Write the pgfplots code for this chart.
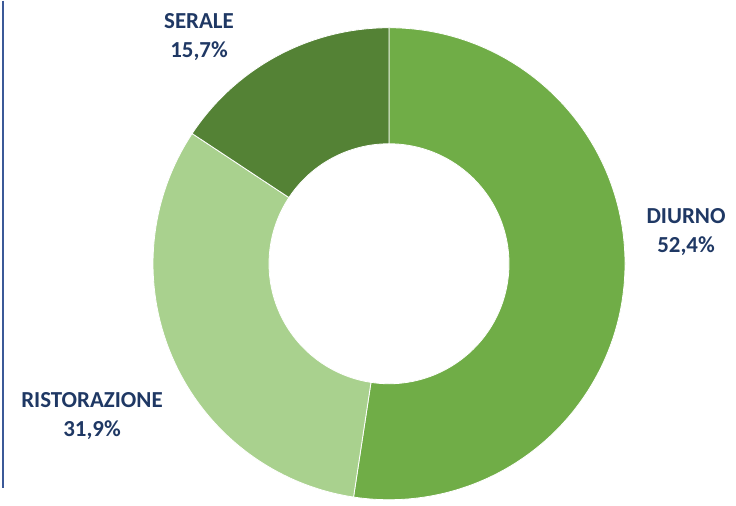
\documentclass[border=0pt]{standalone}
\usepackage{pgfplots}
\pgfplotsset{compat=1.18}
\usepackage{pgfplotstable}
\usepackage{fontspec}
\setmainfont{Carlito}
\definecolor{cDiurno}{HTML}{70AD47}
\definecolor{cRist}{HTML}{A9D18E}
\definecolor{cSerale}{HTML}{548235}
\definecolor{lbl}{HTML}{1F3864}
\definecolor{frame}{HTML}{3B5998}
\pgfplotstableread{
label value
DIURNO 52.4
RISTORAZIONE 31.9
SERALE 15.7
}\datatable
\pgfplotstablegetelem{0}{value}\of\datatable \let\va\pgfplotsretval
\pgfplotstablegetelem{1}{value}\of\datatable \let\vb\pgfplotsretval
\pgfplotstablegetelem{2}{value}\of\datatable \let\vc\pgfplotsretval
\pgfmathsetmacro\aA{90}
\pgfmathsetmacro\aB{90-3.6*\va}
\pgfmathsetmacro\aC{\aB-3.6*\vb}
\pgfmathsetmacro\aD{\aC-3.6*\vc}
\def\cx{389}\def\cy{238}\def\ro{236}\def\ri{120}
\newcommand\donutwedge[3]{%
  \fill[#1, draw=white, line width=0.8bp]
    (axis cs:{\cx+\ro*cos(#2)},{\cy+\ro*sin(#2)})
    arc[start angle=#2, end angle=#3, radius=\ro bp]
    -- (axis cs:{\cx+\ri*cos(#3)},{\cy+\ri*sin(#3)})
    arc[start angle=#3, end angle=#2, radius=\ri bp] -- cycle;}
\begin{document}
\begin{tikzpicture}
\begin{axis}[
  width=736bp, height=501bp, scale only axis,
  xmin=0, xmax=736, ymin=0, ymax=501,
  enlargelimits=false, axis lines=none, clip=false,
]
\addplot[draw=none] coordinates {(0,0) (736,501)};
\donutwedge{cDiurno}{\aA}{\aB}
\donutwedge{cRist}{\aB}{\aC}
\donutwedge{cSerale}{\aC}{\aD}
\draw[frame, line width=1.5bp] (axis cs:3,501) -- (axis cs:3,14);
\tikzset{lab/.style={font=\fontsize{23}{29}\selectfont\bfseries, text=lbl, align=center}}
\node[lab] at (axis cs:199,465) {SERALE\\15,7\%};
\node[lab] at (axis cs:686,270) {DIURNO\\52,4\%};
\node[lab] at (axis cs:92,86) {RISTORAZIONE\\31,9\%};
\end{axis}
\end{tikzpicture}
\end{document}
